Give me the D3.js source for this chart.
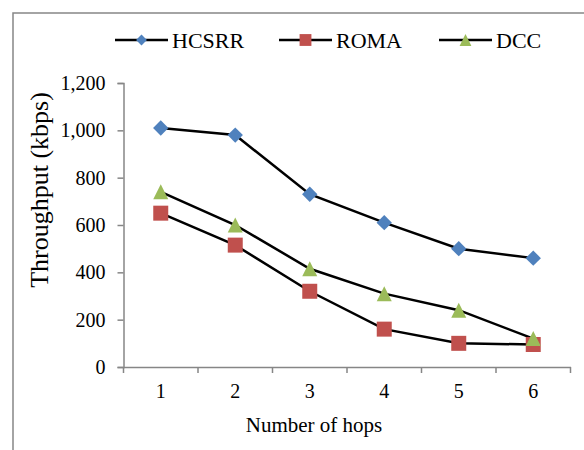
<!DOCTYPE html>
<html><head><meta charset="utf-8">
<script src="https://cdn.jsdelivr.net/npm/d3@7"></script>
<style>
body{margin:0;background:#fff;}
text{font-family:"Liberation Serif","Times New Roman",serif;fill:#000;}
</style></head>
<body><svg id="c" width="584" height="450"></svg>
<script>
const categories = ["1","2","3","4","5","6"];
const hcsrr = [1010, 980, 730, 610, 500, 460];
const roma = [650, 515, 320, 160, 100, 95];
const dcc = [740, 600, 415, 310, 240, 120];
const yTicks = [0, 200, 400, 600, 800, 1000, 1200];
const seriesNames = ["HCSRR", "ROMA", "DCC"];

// box triangle: width = height = sqrt(size)
const boxTriangle = {
  draw(ctx, size) {
    const r = Math.sqrt(size) / 2;
    ctx.moveTo(0, -r); ctx.lineTo(r, r); ctx.lineTo(-r, r); ctx.closePath();
  }
};

const series = [
  {name: seriesNames[0], values: hcsrr, color: "#4F81BD", shape: d3.symbolDiamond2, size: 150, legSize: 75},
  {name: seriesNames[1], values: roma, color: "#C0504D", shape: d3.symbolSquare, size: 225, legSize: 140},
  {name: seriesNames[2], values: dcc, color: "#9BBB59", shape: boxTriangle, size: 225, legSize: 140}
];

const svg = d3.select("#c");
const axisColor = "#868686";

// outer frame
svg.append("path").attr("d", "M13,460 L13,13 L600,13")
  .attr("fill","none").attr("stroke", axisColor).attr("stroke-width", 1.5);

const x = d3.scaleBand().domain(categories).range([123.5, 570.5]).padding(0);
const y = d3.scaleLinear().domain([0, 1200]).range([367, 83]);

// y axis
const ya = svg.append("g").attr("transform","translate(123.5,0)")
  .call(d3.axisLeft(y).tickValues(yTicks).tickSize(6).tickPadding(12).tickFormat(d3.format(",")));
ya.select(".domain").attr("stroke", axisColor).attr("stroke-width",1.5);
ya.selectAll(".tick line").attr("stroke", axisColor).attr("stroke-width",1.5);
ya.selectAll(".tick text").attr("font-size", 20).attr("font-family","Liberation Serif");

// x axis
const xa = svg.append("g").attr("transform","translate(0,367)")
  .call(d3.axisBottom(x).tickSize(0).tickPadding(17));
xa.select(".domain").attr("stroke", axisColor).attr("stroke-width",1.5);
xa.selectAll(".tick text").attr("font-size", 20).attr("font-family","Liberation Serif");
const bounds = categories.map(c => x(c)).concat([x(categories[categories.length-1]) + x.bandwidth()]);
svg.append("g").selectAll("line").data(bounds).join("line")
  .attr("x1", d => d).attr("x2", d => d).attr("y1", 367).attr("y2", 373)
  .attr("stroke", axisColor).attr("stroke-width", 1.5);

// axis titles
svg.append("text").attr("x", 314).attr("y", 432).attr("text-anchor","middle")
  .attr("font-size", 21).text("Number of hops");
svg.append("text").attr("transform","translate(48,190) rotate(-90)").attr("text-anchor","middle")
  .attr("font-size", 26).text("Throughput (kbps)");

// series
const line = d3.line().x((d,i) => x(categories[i]) + x.bandwidth()/2).y(d => y(d));
series.forEach(s => {
  svg.append("path").datum(s.values).attr("d", line)
    .attr("fill","none").attr("stroke","#000").attr("stroke-width",2.5);
});
series.forEach(s => {
  svg.append("g").selectAll("path").data(s.values).join("path")
    .attr("transform", (d,i) => `translate(${x(categories[i]) + x.bandwidth()/2},${y(d)})`)
    .attr("d", d3.symbol().type(s.shape).size(s.size))
    .attr("fill", s.color);
});

// legend
const legX = [115, 279, 439];
series.forEach((s,i) => {
  const g = svg.append("g").attr("transform", `translate(${legX[i]},40)`);
  g.append("line").attr("x1",0).attr("x2",53).attr("y1",0).attr("y2",0)
    .attr("stroke","#000").attr("stroke-width",2.5);
  g.append("path").attr("transform","translate(26.5,0)")
    .attr("d", d3.symbol().type(s.shape).size(s.legSize)).attr("fill", s.color);
  g.append("text").attr("x", 57).attr("y", 7.5).attr("font-size", 22).text(s.name);
});
</script></body></html>
